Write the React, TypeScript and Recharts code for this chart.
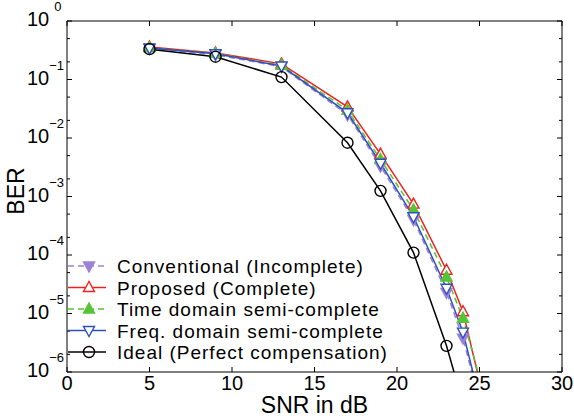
import React from "react";
import { LineChart, Line, XAxis, YAxis } from "recharts";

const snr = [5, 9, 13, 17, 19, 21, 23, 24, 25];
const conventional = [0.34, 0.265, 0.165, 0.025, 3.3e-3, 4.0e-4, 2.3e-5, 3.8e-6, 3e-7];
const proposed = [0.36, 0.285, 0.185, 0.034, 5.3e-3, 7.4e-4, 5.5e-5, 1.07e-5, 7e-7];
const timeDomain = [0.35, 0.28, 0.175, 0.03, 4.3e-3, 5.9e-4, 4.2e-5, 8.3e-6, 8e-7];
const freqDomain = [0.345, 0.275, 0.17, 0.027, 3.7e-3, 4.5e-4, 2.7e-5, 4.8e-6, 3.5e-7];
const ideal = [0.33, 0.245, 0.11, 8.3e-3, 1.25e-3, 1.1e-4, 2.8e-6, 2.9e-7];

const xTicks = [0, 5, 10, 15, 20, 25, 30];
const decades = [-6, -5, -4, -3, -2, -1, 0];
const yTicks = decades.flatMap((d) =>
  d === 0 ? [1] : [Math.pow(10, d), 2 * Math.pow(10, d), 5 * Math.pow(10, d)]
);

const FONT = "'Liberation Sans', Arial, Helvetica, sans-serif";

const series = [
  { key: "conventional", name: "Conventional (Incomplete)", color: "#9b82d6", dash: "6 4", shape: "down", filled: true },
  { key: "proposed", name: "Proposed (Complete)", color: "#f02020", dash: undefined, shape: "up", filled: false },
  { key: "timeDomain", name: "Time domain semi-complete", color: "#55c435", dash: "6 4", shape: "up", filled: true },
  { key: "freqDomain", name: "Freq. domain semi-complete", color: "#2f4fc0", dash: undefined, shape: "down", filled: false },
  { key: "ideal", name: "Ideal (Perfect compensation)", color: "#000000", dash: undefined, shape: "circle", filled: false },
];

const data = snr.map((s, i) => ({
  snr: s,
  conventional: conventional[i],
  proposed: proposed[i],
  timeDomain: timeDomain[i],
  freqDomain: freqDomain[i],
  ideal: ideal[i],
}));

function Marker({ cx, cy, shape, color, filled }: any) {
  if (cx == null || cy == null || isNaN(cx) || isNaN(cy)) return null;
  const fill = filled ? color : "#fff";
  if (shape === "circle") {
    return <circle cx={cx} cy={cy} r={5.5} fill="none" stroke={color} strokeWidth={1.4} />;
  }
  const pts =
    shape === "up"
      ? `${cx},${cy - 6} ${cx - 5.5},${cy + 4} ${cx + 5.5},${cy + 4}`
      : `${cx},${cy + 6} ${cx - 5.5},${cy - 4} ${cx + 5.5},${cy - 4}`;
  return <polygon points={pts} fill={fill} stroke={color} strokeWidth={1.4} />;
}

const isMajor = (v: number) => Math.abs(Math.log10(v) - Math.round(Math.log10(v))) < 1e-6;

function BottomTick({ x, y, payload }: any) {
  return (
    <g>
      <line x1={x} x2={x} y1={y} y2={y - 5} stroke="#000" />
      <text x={x} y={y + 18} textAnchor="middle" fontSize={20} fontFamily={FONT} fill="#000">
        {payload.value}
      </text>
    </g>
  );
}

function TopTick({ x, y }: any) {
  return <line x1={x} x2={x} y1={y} y2={y + 5} stroke="#000" />;
}

// 10^k label, superscript raised to the right of "10"
function LeftTick({ x, y, payload }: any) {
  const v = payload.value;
  if (!isMajor(v)) return <line x1={x} x2={x + 3} y1={y} y2={y} stroke="#000" />;
  const exp = Math.round(Math.log10(v));
  return (
    <g>
      <line x1={x} x2={x + 5} y1={y} y2={y} stroke="#000" />
      <text x={x - 40} y={y + 5} fontSize={20} fontFamily={FONT} fill="#000">
        <tspan>10</tspan>
        <tspan fontSize={13} dx={exp === 0 ? 5 : 0} dy={-15}>
          {exp === 0 ? "0" : `\u2212${-exp}`}
        </tspan>
      </text>
    </g>
  );
}

function RightTick({ x, y, payload }: any) {
  const len = isMajor(payload.value) ? 5 : 3;
  return <line x1={x} x2={x - len} y1={y} y2={y} stroke="#000" />;
}

function Legend() {
  const rows = [266, 287.5, 309, 330.5, 352];
  return (
    <svg width={574} height={419} style={{ position: "absolute", left: 0, top: 0, pointerEvents: "none" }}>
      {series.map((s, i) => (
        <g key={s.key}>
          <line x1={68} x2={106} y1={rows[i]} y2={rows[i]} stroke={s.color} strokeWidth={1.5} strokeDasharray={s.dash} />
          <Marker cx={89} cy={rows[i]} shape={s.shape} color={s.color} filled={s.filled} />
          <text x={117} y={rows[i] + 7} fontSize={19} letterSpacing={1} fontFamily={FONT} fill="#000">
            {s.name}
          </text>
        </g>
      ))}
    </svg>
  );
}

export default function App() {
  return (
    <div style={{ position: "absolute", left: 0, top: 0, width: 574, height: 419, background: "#fff" }}>
      <LineChart width={574} height={419} data={data} margin={{ top: 20, right: 11, bottom: 17, left: 7 }}>
        <XAxis
          dataKey="snr"
          type="number"
          domain={[0, 30]}
          ticks={xTicks}
          interval={0}
          tickSize={0}
          tickMargin={0}
          height={30}
          axisLine={{ stroke: "#000" }}
          tickLine={false}
          tick={<BottomTick />}
          label={{
            content: (props: any) => {
              const vb = props.viewBox || { x: 67, y: 372, width: 495 };
              return (
                <text x={vb.x + vb.width / 2} y={vb.y + 41} textAnchor="middle" fontSize={23} fontFamily={FONT} fill="#000">
                  SNR in dB
                </text>
              );
            },
          }}
        />
        <XAxis
          xAxisId="top"
          orientation="top"
          dataKey="snr"
          type="number"
          domain={[0, 30]}
          ticks={xTicks}
          interval={0}
          tickSize={0}
          tickMargin={0}
          height={1}
          axisLine={{ stroke: "#000" }}
          tickLine={false}
          tick={<TopTick />}
        />
        <YAxis
          type="number"
          scale="log"
          domain={[1e-6, 1]}
          allowDataOverflow
          ticks={yTicks}
          interval={0}
          tickSize={0}
          tickMargin={0}
          width={60}
          axisLine={{ stroke: "#000" }}
          tickLine={false}
          tick={<LeftTick />}
          label={{
            content: () => (
              <text x={24} y={191} transform="rotate(-90 24 191)" textAnchor="middle" fontSize={23} fontFamily={FONT} fill="#000">
                BER
              </text>
            ),
          }}
        />
        <YAxis
          yAxisId="right"
          orientation="right"
          type="number"
          scale="log"
          domain={[1e-6, 1]}
          allowDataOverflow
          ticks={yTicks}
          interval={0}
          tickSize={0}
          tickMargin={0}
          width={1}
          axisLine={{ stroke: "#000" }}
          tickLine={false}
          tick={<RightTick />}
        />
        {series.map((s) => (
          <Line
            key={s.key}
            dataKey={s.key}
            stroke={s.color}
            strokeWidth={1.5}
            strokeDasharray={s.dash}
            isAnimationActive={false}
            dot={(p: any) => <Marker key={`${s.key}-${p.index}`} cx={p.cx} cy={p.cy} shape={s.shape} color={s.color} filled={s.filled} />}
            activeDot={false}
          />
        ))}
      </LineChart>
      <Legend />
    </div>
  );
}
